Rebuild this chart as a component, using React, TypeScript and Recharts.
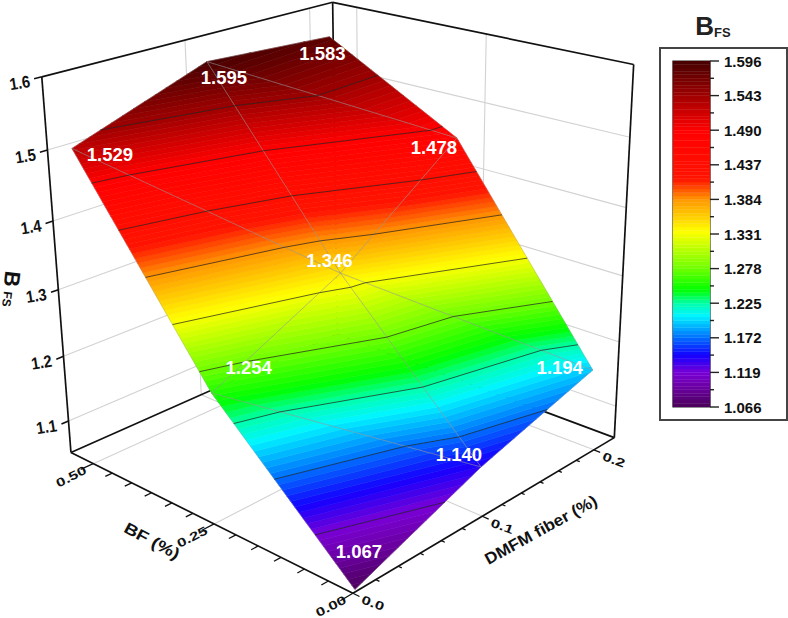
import React from "react";
import { ComposedChart, BarChart, Bar, Scatter, XAxis, YAxis, ReferenceArea } from "recharts";

// ---------- data ----------
const BF_VALUES = [0, 0.25, 0.5];
const DMFM_VALUES = [0, 0.1, 0.2];
const BFS_AT_BF0 = [1.067, 1.14, 1.194];
const BFS_AT_BF25 = [1.254, 1.346, 1.478];
const BFS_AT_BF50 = [1.529, 1.595, 1.583];
const BFS_GRID = [BFS_AT_BF0, BFS_AT_BF25, BFS_AT_BF50];
const Z_TICKS = [1.1, 1.2, 1.3, 1.4, 1.5, 1.6];
const BF_TICKS = ["0.00", "0.25", "0.50"];
const DMFM_TICKS = ["0.0", "0.1", "0.2"];
const BF_END = 0.55;
const DMFM_END = 0.22;
const Z_MIN = 1.05;
const Z_MAX = 1.6;
const COLOR_MAJOR = [1.066, 1.119, 1.172, 1.225, 1.278, 1.331, 1.384, 1.437, 1.49, 1.543, 1.596];
const COLOR_STOPS: [number, number, number, number][] = [
  [1.066, 75, 0, 90],
  [1.1, 110, 0, 170],
  [1.119, 120, 0, 215],
  [1.145, 20, 0, 255],
  [1.172, 0, 110, 255],
  [1.206, 0, 245, 255],
  [1.225, 0, 255, 170],
  [1.245, 0, 255, 0],
  [1.278, 110, 255, 0],
  [1.335, 255, 255, 0],
  [1.384, 255, 150, 0],
  [1.415, 255, 20, 0],
  [1.49, 255, 0, 0],
  [1.543, 160, 0, 0],
  [1.596, 70, 0, 0],
];
const BAND_COUNT = 100;
const FONT = "'Liberation Sans', Arial, sans-serif";

// ---------- cameras: pixel positions of known cube/surface points, fitted to projective cameras ----------
const FRAME_CALIBRATION: number[][] = [
  [0, 0, 1.05, 355, 592], [BF_END, 0, 1.05, 71, 451], [0, DMFM_END, 1.05, 615, 437], [BF_END, DMFM_END, 1.05, 339, 335],
  [BF_END, 0, 1.6, 42, 77], [BF_END, DMFM_END, 1.6, 332, 2], [0, DMFM_END, 1.6, 635, 65],
  [0.25, 0, 1.05, 213, 525], [0.5, 0, 1.05, 92, 463], [0, 0.1, 1.05, 483, 518], [0, 0.2, 1.05, 592, 452],
  [BF_END, 0, 1.5, 47.7, 150], [BF_END, 0, 1.4, 53, 222], [BF_END, 0, 1.3, 58.5, 290], [BF_END, 0, 1.2, 63, 357], [BF_END, 0, 1.1, 68.6, 420],
  [0, DMFM_END, 1.5, 630, 137], [0, DMFM_END, 1.4, 625, 207], [0, DMFM_END, 1.3, 623, 275], [0, DMFM_END, 1.2, 618, 342], [0, DMFM_END, 1.1, 616, 405],
];
const SURFACE_CALIBRATION: number[][] = [
  [0, 0, 1.067, 355, 590], [0, 0.1, 1.14, 480, 467], [0, 0.2, 1.194, 593, 370],
  [0.25, 0, 1.254, 213, 393], [0.25, 0.1, 1.346, 340, 273], [0.25, 0.2, 1.478, 457, 138],
  [0.5, 0, 1.529, 72, 148], [0.5, 0.1, 1.595, 206, 62], [0.5, 0.2, 1.583, 330, 37],
];

function solve(A: number[][], b: number[]) {
  const n = b.length;
  const M = A.map((r, i) => [...r, b[i]]);
  for (let c = 0; c < n; c++) {
    let piv = c;
    for (let r = c + 1; r < n; r++) if (Math.abs(M[r][c]) > Math.abs(M[piv][c])) piv = r;
    [M[c], M[piv]] = [M[piv], M[c]];
    for (let r = 0; r < n; r++) {
      if (r === c) continue;
      const f = M[r][c] / M[c][c];
      for (let k = c; k <= n; k++) M[r][k] -= f * M[c][k];
    }
  }
  return M.map((r, i) => r[n] / r[i]);
}
const norm = (b: number, d: number, z: number) => [b / BF_END, d / DMFM_END, (z - Z_MIN) / (Z_MAX - Z_MIN)];
function fitCamera(main: number[][], support: number[][]) {
  const rows: number[][] = [];
  const rhs: number[] = [];
  const add = (list: number[][], wt: number) =>
    list.forEach(([b, d, z, px, py]) => {
      const [u, v, w] = norm(b, d, z);
      const X = px / 100;
      const Y = py / 100;
      rows.push([u, v, w, 1, 0, 0, 0, 0, -u * X, -v * X, -w * X].map((e) => e * wt));
      rhs.push(X * wt);
      rows.push([0, 0, 0, 0, u, v, w, 1, -u * Y, -v * Y, -w * Y].map((e) => e * wt));
      rhs.push(Y * wt);
    });
  add(main, 1);
  add(support, 0.05);
  const N = Array.from({ length: 11 }, (_, i) =>
    Array.from({ length: 11 }, (_, j) => rows.reduce((s, r) => s + r[i] * r[j], 0))
  );
  const B = Array.from({ length: 11 }, (_, i) => rows.reduce((s, r, k) => s + r[i] * rhs[k], 0));
  return solve(N, B);
}
const FRAME_CAMERA = fitCamera(FRAME_CALIBRATION, []);
const SURFACE_CAMERA = fitCamera(SURFACE_CALIBRATION, FRAME_CALIBRATION);
type P = { x: number; y: number };
function projectWith(p: number[], b: number, d: number, z: number): P {
  const [u, v, w] = norm(b, d, z);
  const q = p[8] * u + p[9] * v + p[10] * w + 1;
  return {
    x: (100 * (p[0] * u + p[1] * v + p[2] * w + p[3])) / q,
    y: (100 * (p[4] * u + p[5] * v + p[6] * w + p[7])) / q,
  };
}
const project = (b: number, d: number, z: number) => projectWith(FRAME_CAMERA, b, d, z);

// ---------- colours and contour bands ----------
function colorOf(v: number) {
  let i = 0;
  while (i < COLOR_STOPS.length - 2 && v > COLOR_STOPS[i + 1][0]) i++;
  const a = COLOR_STOPS[i];
  const c = COLOR_STOPS[i + 1];
  const t = Math.max(0, Math.min(1, (v - a[0]) / (c[0] - a[0])));
  const m = (k: number) => Math.round(a[k] + (c[k] - a[k]) * t);
  return `rgb(${m(1)},${m(2)},${m(3)})`;
}
type V = P & { v: number };
const VERT: V[][] = BF_VALUES.map((b, i) =>
  DMFM_VALUES.map((d, j) => ({ ...projectWith(SURFACE_CAMERA, b, d, BFS_GRID[i][j]), v: BFS_GRID[i][j] }))
);
const TRIS: V[][] = [];
for (let i = 0; i < 2; i++)
  for (let j = 0; j < 2; j++) {
    TRIS.push([VERT[i][j], VERT[i + 1][j], VERT[i][j + 1]]);
    TRIS.push([VERT[i + 1][j + 1], VERT[i + 1][j], VERT[i][j + 1]]);
  }
const cross = (a: V, c: V, l: number): V => {
  const t = (l - a.v) / (c.v - a.v);
  return { x: a.x + (c.x - a.x) * t, y: a.y + (c.y - a.y) * t, v: l };
};
function clip(poly: V[], l: number, keepAbove: boolean) {
  const out: V[] = [];
  poly.forEach((a, i) => {
    const c = poly[(i + 1) % poly.length];
    const ain = keepAbove ? a.v >= l : a.v <= l;
    const cin = keepAbove ? c.v >= l : c.v <= l;
    if (ain) out.push(a);
    if (ain !== cin) out.push(cross(a, c, l));
  });
  return out;
}
const COL_MIN = COLOR_MAJOR[0];
const COL_MAX = COLOR_MAJOR[COLOR_MAJOR.length - 1];
const STEP = (COL_MAX - COL_MIN) / BAND_COUNT;
const BANDS: { pts: P[]; color: string }[] = [];
for (let k = 0; k < BAND_COUNT; k++) {
  const lo = COL_MIN + k * STEP;
  const hi = lo + STEP;
  TRIS.forEach((t) => {
    const pts = clip(clip(t, lo, true), hi, false);
    if (pts.length >= 3) BANDS.push({ pts, color: colorOf((lo + hi) / 2) });
  });
}
const CONTOURS: P[][] = [];
COLOR_MAJOR.forEach((l) =>
  TRIS.forEach((t) => {
    const seg: P[] = [];
    t.forEach((a, i) => {
      const c = t[(i + 1) % 3];
      if (a.v < l !== c.v < l) seg.push(cross(a, c, l));
    });
    if (seg.length === 2) CONTOURS.push(seg);
  })
);
const MESH: P[][] = [];
TRIS.forEach((t) => MESH.push([t[0], t[1], t[2], t[0]]));

// ---------- frame ----------
const seg3 = (a: number[], c: number[]) => [project(a[0], a[1], a[2]), project(c[0], c[1], c[2])];
const GRID: P[][] = [];
Z_TICKS.slice(0, 5).forEach((z) => {
  GRID.push(seg3([BF_END, 0, z], [BF_END, DMFM_END, z]));
  GRID.push(seg3([BF_END, DMFM_END, z], [0, DMFM_END, z]));
});
DMFM_VALUES.slice(1).forEach((d) => {
  GRID.push(seg3([BF_END, d, Z_MIN], [BF_END, d, Z_MAX]));
  GRID.push(seg3([0, d, Z_MIN], [BF_END, d, Z_MIN]));
});
BF_VALUES.slice(1).forEach((b) => {
  GRID.push(seg3([b, DMFM_END, Z_MIN], [b, DMFM_END, Z_MAX]));
  GRID.push(seg3([b, 0, Z_MIN], [b, DMFM_END, Z_MIN]));
});
const FRAME_BACK: P[][] = [
  seg3([BF_END, 0, Z_MIN], [BF_END, 0, Z_MAX]),
  seg3([BF_END, 0, Z_MAX], [BF_END, DMFM_END, Z_MAX]),
  seg3([BF_END, DMFM_END, Z_MAX], [0, DMFM_END, Z_MAX]),
  seg3([0, DMFM_END, Z_MAX], [0, DMFM_END, Z_MIN]),
  seg3([BF_END, DMFM_END, Z_MAX], [BF_END, DMFM_END, Z_MIN]),
  seg3([BF_END, 0, Z_MIN], [BF_END, DMFM_END, Z_MIN]),
  seg3([0, DMFM_END, Z_MIN], [BF_END, DMFM_END, Z_MIN]),
];
const FRAME_FRONT: P[][] = [
  seg3([0, 0, Z_MIN], [BF_END, 0, Z_MIN]),
  seg3([0, 0, Z_MIN], [0, DMFM_END, Z_MIN]),
];
const TICKS: { pts: P[]; w: number }[] = [];
Z_TICKS.forEach((z) => TICKS.push({ pts: seg3([BF_END, 0, z], [BF_END, -0.005, z]), w: 1.6 }));
for (let k = 0; k <= 18; k++) {
  const major = k % 6 === 0;
  const b = (k * 0.25) / 6;
  if (b <= BF_END - 0.02) TICKS.push({ pts: seg3([b, 0, Z_MIN], [b, major ? -0.009 : -0.005, Z_MIN]), w: 1.3 });
  const d = (k * 0.1) / 6;
  if (d <= 0.2001) TICKS.push({ pts: seg3([0, d, Z_MIN], [major ? -0.011 : -0.006, d, Z_MIN]), w: 1.3 });
}

// ---------- texts ----------
type T = { x: number; y: number; text: string; size: number; rot: number; sx?: number };
const TEXTS: T[] = [];
Z_TICKS.forEach((z) => {
  const p = project(BF_END, 0, z);
  TEXTS.push({ x: p.x - 22, y: p.y + 6, text: z.toFixed(1), size: 17, rot: -9, sx: 0.87 });
});
BF_VALUES.forEach((b, i) => {
  const p = project(b, 0, Z_MIN);
  TEXTS.push({ x: p.x - 22, y: p.y + 13, text: BF_TICKS[i], size: 12, rot: -27, sx: 1.4 });
});
DMFM_VALUES.forEach((d, i) => {
  const p = project(0, d, Z_MIN);
  TEXTS.push({ x: p.x + 20, y: p.y + 10, text: DMFM_TICKS[i], size: 12, rot: 20, sx: 1.4 });
});
const BF_TITLE = "BF (%)";
const DMFM_TITLE = "DMFM fiber (%)";
const Z_TITLE_MAIN = "B";
const Z_TITLE_SUB = "FS";
const POINT_LABEL_OFFSET = [
  [[4, -38], [-22, -12], [-33, -3]],
  [[37, -26], [-11, -13], [-23, 9]],
  [[38, 6], [17, 16], [-7, 17]],
];

const poly = (closed: boolean, fill: string, stroke: string, w: number) => (p: any) => {
  const pts = p.points as P[];
  const d = pts.map((q, i) => `${i ? "L" : "M"}${q.x},${q.y}`).join("") + (closed ? "Z" : "");
  return <path d={d} fill={fill} stroke={stroke} strokeWidth={w} />;
};
const noDot = () => <g />;
const Seg = (pts: P[], key: string, fill: string, stroke: string, w: number, closed = false) => (
  <Scatter key={key} data={pts} dataKey="y" line={poly(closed, fill, stroke, w)} shape={noDot} isAnimationActive={false} />
);
const TextMark = (t: T, key: string, color = "#111") => (
  <Scatter
    key={key}
    data={[{ x: t.x, y: t.y }]}
    dataKey="y"
    isAnimationActive={false}
    shape={(p: any) => (
      <text
        textAnchor="middle"
        dominantBaseline="central"
        fontFamily={FONT}
        fontWeight="bold"
        fontSize={t.size}
        fill={color}
        transform={`translate(${p.cx} ${p.cy}) rotate(${t.rot}) scale(${t.sx ?? 1} 1)`}
      >
        {t.text}
      </text>
    )}
  />
);

// ---------- colour bar ----------
const BAR_ROW: Record<string, any> = { name: "scale", base: COL_MIN };
const BAR_KEYS: string[] = [];
for (let k = 0; k < BAND_COUNT; k++) {
  BAR_ROW[`s${k}`] = STEP;
  BAR_KEYS.push(`s${k}`);
}
const BAR_TICKS: number[] = [];
COLOR_MAJOR.forEach((m, i) => {
  BAR_TICKS.push(m);
  if (i < COLOR_MAJOR.length - 1) BAR_TICKS.push(m + 0.0265);
});
const BarTick = (p: any) => {
  const isMajor = p.index % 2 === 0;
  return (
    <g>
      <line x1={p.x} x2={p.x + (isMajor ? 9 : 4)} y1={p.y} y2={p.y} stroke="#222" strokeWidth={1.4} />
      {isMajor && (
        <text x={p.x + 14} y={p.y} dominantBaseline="central" fontFamily={FONT} fontWeight="bold" fontSize={15} fill="#111">
          {p.payload.value.toFixed(3)}
        </text>
      )}
    </g>
  );
};

export default function App() {
  return (
    <div style={{ position: "absolute", left: 0, top: 0, width: 788, height: 618 }}>
      <ComposedChart width={788} height={618} margin={{ top: 0, right: 0, bottom: 0, left: 0 }}>
        <XAxis dataKey="x" type="number" domain={[0, 788]} hide />
        <YAxis dataKey="y" type="number" domain={[0, 618]} reversed hide />
        {GRID.map((s, i) => Seg(s, `g${i}`, "none", "#d2d2d2", 1.1))}
        {FRAME_BACK.map((s, i) => Seg(s, `fb${i}`, "none", "#111", 1.7))}
        {BANDS.map((b, i) => Seg(b.pts, `b${i}`, b.color, b.color, 0.6, true))}
        {MESH.map((s, i) => Seg(s, `m${i}`, "none", "rgba(150,150,150,0.33)", 1))}
        {CONTOURS.map((s, i) => Seg(s, `c${i}`, "none", "rgba(30,30,30,0.7)", 1))}
        {FRAME_FRONT.map((s, i) => Seg(s, `ff${i}`, "none", "#111", 1.7))}
        {TICKS.map((s, i) => Seg(s.pts, `t${i}`, "none", "#111", s.w))}
        {TEXTS.map((t, i) => TextMark(t, `x${i}`))}
        {TextMark({ x: 152, y: 541, text: BF_TITLE, size: 16, rot: 28, sx: 1.2 }, "bfTitle")}
        {TextMark({ x: 541, y: 530, text: DMFM_TITLE, size: 16, rot: -29, sx: 1.08 }, "dmTitle")}
        {TextMark({ x: 12, y: 279, text: Z_TITLE_MAIN, size: 22, rot: 97 }, "zMain")}
        {TextMark({ x: 7, y: 299, text: Z_TITLE_SUB, size: 12, rot: 97 }, "zSub")}
        {BF_VALUES.map((b, i) =>
          DMFM_VALUES.map((d, j) => {
            const v = VERT[i][j];
            const o = POINT_LABEL_OFFSET[i][j];
            return TextMark(
              { x: v.x + o[0], y: v.y + o[1], text: BFS_GRID[i][j].toFixed(3), size: 18.5, rot: 0 },
              `v${i}${j}`,
              "#fff"
            );
          })
        )}
      </ComposedChart>
      <div style={{ position: "absolute", left: 659, top: 47, width: 125, height: 370, border: "2px solid #444" }} />
      <div
        style={{
          position: "absolute",
          left: 653,
          top: 9,
          width: 120,
          textAlign: "center",
          fontFamily: FONT,
          fontWeight: "bold",
          color: "#222",
          fontSize: 26,
          lineHeight: "34px",
          whiteSpace: "nowrap",
        }}
      >
        B<span style={{ fontSize: 13, position: "relative", top: 2 }}>FS</span>
      </div>
      <div style={{ position: "absolute", left: 660, top: 50 }}>
        <BarChart width={126} height={366} data={[BAR_ROW]} margin={{ top: 11, right: 6, bottom: 9, left: 13 }} barCategoryGap={0}>
          <XAxis dataKey="name" hide />
          <YAxis
            orientation="right"
            type="number"
            domain={[COL_MIN, COL_MAX]}
            allowDataOverflow
            ticks={BAR_TICKS}
            interval={0}
            width={70}
            tickSize={0}
            tickMargin={0}
            tickLine={false}
            axisLine={false}
            tick={BarTick}
          />
          <Bar dataKey="base" stackId="scale" fill="none" isAnimationActive={false} />
          {BAR_KEYS.map((k, i) => {
            const c = colorOf(COL_MIN + (i + 0.5) * STEP);
            return <Bar key={k} dataKey={k} stackId="scale" fill={c} stroke={c} strokeWidth={0.4} isAnimationActive={false} />;
          })}
          <ReferenceArea y1={COL_MIN} y2={COL_MAX} fill="none" stroke="#222" strokeWidth={1.2} />
        </BarChart>
      </div>
    </div>
  );
}
